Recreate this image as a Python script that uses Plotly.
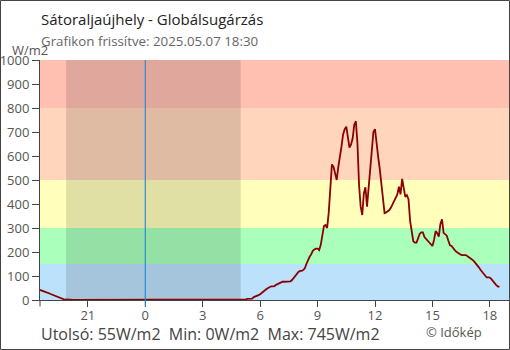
import pandas as pd
import plotly.graph_objects as go

# Global radiation (W/m2), 5-minute readings from 2025-05-06 18:30 to 2025-05-07 18:30
start_time = "2025-05-06 18:30"
end_time = "2025-05-07 18:30"

evening = [42, 40, 37, 35, 32, 30, 27, 24, 21, 18, 16, 13, 10, 7, 5, 3, 2, 1]
night = [0] * 108  # 20:00 - 04:55
h05 = [0, 0, 2, 3, 5, 5, 5, 6, 12, 14, 16, 20]
h06 = [24, 30, 37, 41, 46, 50, 55, 57, 57, 58, 63, 67]
h07 = [70, 73, 76, 76, 76, 76, 77, 78, 83, 92, 100, 111]
h08 = [117, 121, 121, 125, 132, 150, 167, 180, 190, 205, 210, 214]
h09 = [214, 208, 230, 270, 308, 312, 300, 365, 450, 565, 555, 528]
h10 = [500, 555, 590, 640, 690, 712, 722, 680, 635, 648, 674, 730]
h11 = [745, 653, 480, 390, 354, 444, 470, 389, 472, 555, 630, 700]
h12 = [712, 640, 595, 545, 480, 400, 362, 365, 370, 375, 385, 400]
h13 = [410, 425, 440, 472, 440, 505, 460, 430, 437, 420, 330, 285]
h14 = [245, 239, 239, 257, 275, 282, 282, 262, 255, 250, 243, 233]
h15 = [225, 250, 287, 278, 264, 317, 336, 280, 275, 268, 247, 228]
h16 = [225, 215, 208, 201, 196, 192, 188, 187, 188, 187, 182, 178]
h17 = [172, 168, 162, 155, 146, 137, 127, 118, 110, 100, 94, 94]
h18 = [93, 87, 78, 70, 62, 57, 55]

radiation = (evening + night + h05 + h06 + h07 + h08 + h09 + h10 + h11
             + h12 + h13 + h14 + h15 + h16 + h17 + h18)
times = pd.date_range(start_time, end_time, freq="5min")

# Intensity bands (W/m2) and their fills
band_edges = [0, 150, 300, 500, 800, 1000]
band_colors = ["#bbe1fb", "#aaffbb", "#ffffbb", "#ffd5bb", "#ffc0b2"]

# Darkness between sunset and sunrise
sunset = "2025-05-06 19:52"
sunrise = "2025-05-07 04:59"
midnight = "2025-05-07 00:00"

last_val = radiation[-1]
min_val = min(radiation)
max_val = max(radiation)

W, H = 510, 350
ML, MR, MT, MB = 40, 1, 60, 50
PW, PH = W - ML - MR, H - MT - MB


def px(x):
    return (x - ML) / PW


def py(y):
    return (H - MB - y) / PH


FONT = "Open Sans"

fig = go.Figure()
fig.add_trace(go.Scatter(
    x=times, y=radiation, mode="lines",
    line=dict(color="#8b0000", width=1.8),
    hoverinfo="skip", showlegend=False,
))

shapes = []
for lo, hi, col in zip(band_edges[:-1], band_edges[1:], band_colors):
    shapes.append(dict(type="rect", xref="paper", yref="y", x0=0, x1=1,
                       y0=lo, y1=hi, fillcolor=col, line_width=0, layer="below"))
shapes.append(dict(type="rect", xref="x", yref="paper", x0=sunset, x1=sunrise,
                   y0=0, y1=1, fillcolor="rgba(0,0,0,0.12)", line_width=0,
                   layer="below"))
shapes.append(dict(type="line", xref="x", yref="paper", x0=midnight, x1=midnight,
                   y0=-0.027, y1=1, line=dict(color="#2f8ad6", width=1.2)))
# y axis line runs a little below the x axis
shapes.append(dict(type="line", xref="paper", yref="paper", x0=0, x1=0,
                   y0=-0.027, y1=0, line=dict(color="#444", width=1)))
# frame around the whole graphic
shapes.append(dict(type="rect", xref="paper", yref="paper",
                   x0=px(0.5), x1=px(W - 0.5), y0=py(H - 0.5), y1=py(0.5),
                   line=dict(color="#444", width=1), fillcolor="rgba(0,0,0,0)"))


def label(text, x, y, size, color, anchor="left"):
    return dict(text=text, xref="paper", yref="paper", x=px(x), y=py(y),
                xanchor=anchor, yanchor="middle", showarrow=False,
                font=dict(family=FONT, size=size, color=color))


annotations = [
    label("Sátoraljaújhely - Globálsugárzás", 38.5, 19, 15, "#222"),
    label("Grafikon frissítve: 2025.05.07 18:30", 38.5, 41, 13.3, "#666"),
    label("W/m2", 30, 50, 13, "#555", anchor="center"),
    label(f"Utolsó: {last_val}W/m2  Min: {min_val}W/m2  Max: {max_val}W/m2",
          38.5, 334, 16, "#444"),
    label("© Időkép", 423.5, 332, 13, "#555"),
]

fig.update_layout(
    width=W, height=H,
    margin=dict(l=ML, r=MR, t=MT, b=MB),
    paper_bgcolor="white", plot_bgcolor="white",
    shapes=shapes, annotations=annotations,
    font=dict(family=FONT, size=13, color="#555"),
    xaxis=dict(
        type="date", range=["2025-05-06 18:30", "2025-05-07 19:00"],
        tick0="2025-05-06 21:00", dtick=3 * 3600 * 1000, tickformat="%-H",
        ticks="outside", ticklen=6, tickcolor="#444", showgrid=False,
        showline=True, linecolor="#444", linewidth=1, zeroline=False,
        ticklabelstandoff=-3,
        tickfont=dict(family=FONT, size=13, color="#555"),
    ),
    yaxis=dict(
        range=[0, 1000], tick0=0, dtick=100, ticks="outside", ticklen=7,
        tickcolor="#444", showgrid=False, showline=True, linecolor="#444",
        linewidth=1, zeroline=False,
        tickfont=dict(family=FONT, size=13, color="#555"),
    ),
)

fig.write_html("out.html")
